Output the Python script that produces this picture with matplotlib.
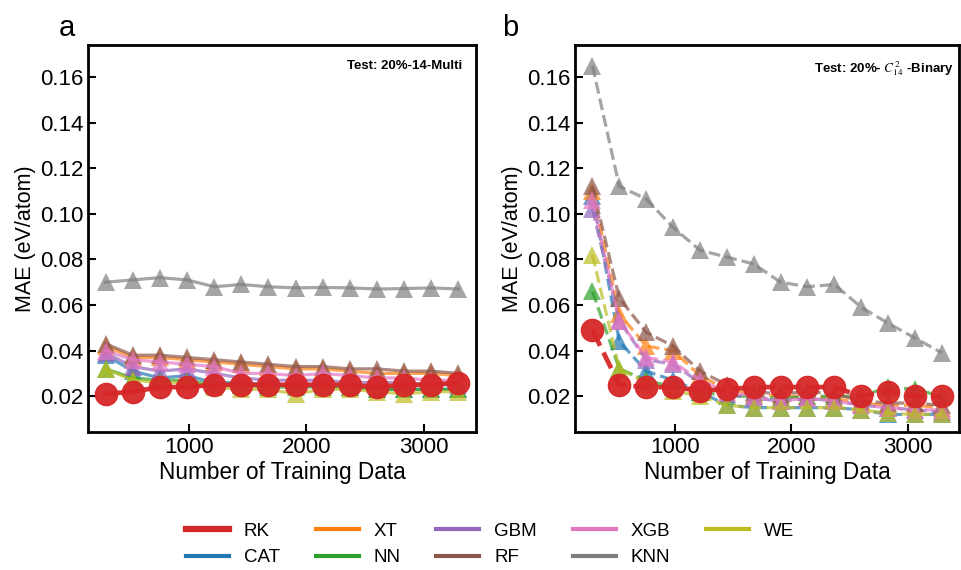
import numpy as np
import matplotlib
matplotlib.use("Agg")
import matplotlib.pyplot as plt

plt.rcParams['font.family'] = ['Liberation Sans', 'DejaVu Sans']
plt.rcParams['mathtext.fontset'] = 'stix'

#Training set sizes
n_train = [290, 521, 752, 983, 1214, 1445, 1676, 1907, 2138, 2369, 2600, 2831, 3062, 3293]

models = ["RK", "CAT", "XT", "NN", "GBM", "RF", "XGB", "KNN", "WE"]
colors = {"RK": "#d62728", "CAT": "#1f77b4", "XT": "#ff7f0e", "NN": "#2ca02c",
          "GBM": "#9467bd", "RF": "#8c564b", "XGB": "#e377c2", "KNN": "#7f7f7f",
          "WE": "#bcbd22"}

#Panel a: test on 20%-14-Multi
multi_RK = [0.021, 0.022, 0.024, 0.024, 0.025, 0.025, 0.025, 0.025, 0.025, 0.025, 0.024, 0.025, 0.025, 0.026]
multi_CAT = [0.038, 0.031, 0.028, 0.029, 0.026, 0.026, 0.025, 0.025, 0.025, 0.024, 0.023, 0.023, 0.023, 0.023]
multi_XT = [0.042, 0.037, 0.037, 0.036, 0.035, 0.034, 0.033, 0.032, 0.032, 0.031, 0.030, 0.030, 0.030, 0.029]
multi_NN = [0.032, 0.028, 0.027, 0.027, 0.025, 0.025, 0.024, 0.024, 0.024, 0.024, 0.023, 0.023, 0.023, 0.023]
multi_GBM = [0.039, 0.033, 0.031, 0.032, 0.030, 0.028, 0.027, 0.027, 0.027, 0.026, 0.026, 0.026, 0.025, 0.025]
multi_RF = [0.043, 0.038, 0.038, 0.037, 0.036, 0.035, 0.034, 0.033, 0.033, 0.032, 0.032, 0.031, 0.031, 0.030]
multi_XGB = [0.040, 0.036, 0.035, 0.034, 0.033, 0.030, 0.030, 0.029, 0.030, 0.029, 0.028, 0.028, 0.027, 0.027]
multi_KNN = [0.070, 0.071, 0.072, 0.071, 0.068, 0.069, 0.068, 0.0675, 0.0677, 0.0675, 0.067, 0.0672, 0.0675, 0.067]
multi_WE = [0.032, 0.027, 0.026, 0.026, 0.024, 0.023, 0.023, 0.021, 0.023, 0.023, 0.022, 0.021, 0.022, 0.022]

#Panel b: test on 20%-C(14,2)-Binary
bin_RK = [0.049, 0.025, 0.024, 0.024, 0.0225, 0.023, 0.024, 0.024, 0.024, 0.024, 0.020, 0.022, 0.020, 0.020]
bin_CAT = [0.108, 0.044, 0.031, 0.027, 0.022, 0.016, 0.015, 0.015, 0.015, 0.015, 0.014, 0.012, 0.012, 0.012]
bin_XT = [0.110, 0.056, 0.042, 0.040, 0.029, 0.023, 0.021, 0.020, 0.020, 0.019, 0.017, 0.016, 0.016, 0.015]
bin_NN = [0.066, 0.032, 0.027, 0.024, 0.022, 0.020, 0.020, 0.019, 0.020, 0.020, 0.020, 0.024, 0.023, 0.020]
bin_GBM = [0.102, 0.053, 0.036, 0.034, 0.026, 0.021, 0.019, 0.018, 0.019, 0.018, 0.016, 0.015, 0.014, 0.013]
bin_RF = [0.112, 0.063, 0.048, 0.042, 0.031, 0.025, 0.022, 0.021, 0.022, 0.021, 0.018, 0.017, 0.017, 0.016]
bin_XGB = [0.106, 0.053, 0.037, 0.035, 0.027, 0.022, 0.020, 0.018, 0.019, 0.018, 0.016, 0.015, 0.014, 0.014]
bin_KNN = [0.165, 0.112, 0.1065, 0.094, 0.084, 0.081, 0.078, 0.070, 0.068, 0.069, 0.059, 0.052, 0.0455, 0.039]
bin_WE = [0.082, 0.032, 0.026, 0.0225, 0.020, 0.016, 0.015, 0.015, 0.015, 0.015, 0.014, 0.0125, 0.012, 0.012]

multi = {"RK": multi_RK, "CAT": multi_CAT, "XT": multi_XT, "NN": multi_NN, "GBM": multi_GBM,
         "RF": multi_RF, "XGB": multi_XGB, "KNN": multi_KNN, "WE": multi_WE}
binary = {"RK": bin_RK, "CAT": bin_CAT, "XT": bin_XT, "NN": bin_NN, "GBM": bin_GBM,
          "RF": bin_RF, "XGB": bin_XGB, "KNN": bin_KNN, "WE": bin_WE}

fig = plt.figure(figsize=(9.61, 5.70), dpi=100)
axa = fig.add_axes([0.0916, 0.2421, 0.4037, 0.6789])
axb = fig.add_axes([0.5983, 0.2421, 0.4000, 0.6789])

def draw(ax, data, ls):
    #draw other models first, RK on top
    for m in models[1:] + ["RK"]:
        if m == "RK":
            ax.plot(n_train, data[m], ls, color=colors[m], marker='o', markersize=16,
                    linewidth=3.4, alpha=0.95, zorder=5)
        else:
            ax.plot(n_train, data[m], ls, color=colors[m], marker='^', markersize=13,
                    linewidth=2.3, alpha=0.7, markeredgewidth=0)
    ax.set_ylim(0.0043, 0.174)
    ax.set_xlim(140, 3443)
    ax.set_xticks([1000, 2000, 3000])
    ax.set_yticks([0.02, 0.04, 0.06, 0.08, 0.10, 0.12, 0.14, 0.16])
    ax.tick_params(direction='in', length=6, width=1.5, labelsize=16)
    for s in ax.spines.values():
        s.set_linewidth(2)
    ax.set_xlabel("Number of Training Data", fontsize=16.3, labelpad=2)
    ax.set_ylabel("MAE (eV/atom)", fontsize=15.5, labelpad=3)

draw(axa, multi, '-')
draw(axb, binary, '--')

axa.text(0.964, 0.962, "Test: 20%-14-Multi", transform=axa.transAxes, ha='right', va='top',
         fontsize=9.5, fontweight='bold')
axb.text(0.985, 0.962, r"Test: 20%- $C_{14}^{2}$ -Binary", transform=axb.transAxes, ha='right',
         va='top', fontsize=9.5, fontweight='bold')

fig.text(0.07, 0.95, "a", fontsize=21, ha='center', va='center')
fig.text(0.531, 0.95, "b", fontsize=21, ha='center', va='center')

#Legend
handles = []
for m in models:
    lw = 4.5 if m == "RK" else 3
    h, = axa.plot([], [], '-', color=colors[m], linewidth=lw)
    handles.append(h)
fig.legend(handles, models, loc='center', bbox_to_anchor=(0.51, 0.045), ncol=5,
           frameon=False, fontsize=13.5, handlelength=2.3, columnspacing=1.9,
           handletextpad=0.8, labelspacing=0.5)

plt.savefig("out.png", dpi=100)
